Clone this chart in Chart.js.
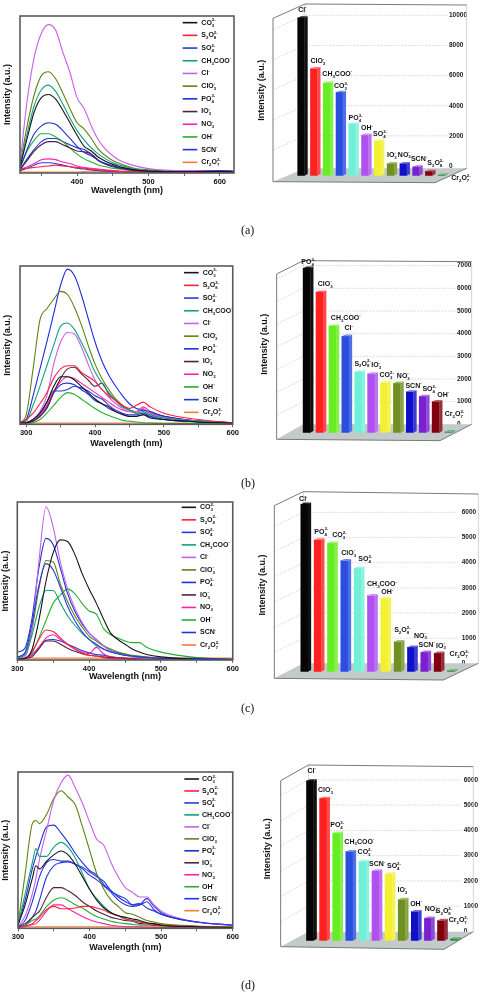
<!DOCTYPE html>
<html>
<head>
<meta charset="utf-8">
<title>Fluorescence spectra and intensity bars</title>
<script src="https://cdn.jsdelivr.net/npm/chart.js@4"></script>
<style>
html,body{margin:0;padding:0;background:#fff;width:480px;height:992px;overflow:hidden}
canvas{position:absolute;filter:blur(0.3px)}
.cap{position:absolute;font:12px "Liberation Serif",serif;color:#111}
</style>
</head>
<body>
<script>
// ---------- shared categories ----------
const ionLabels = ['CO_3^2-','S_2O_8^2-','SO_4^2-','CH_3COO^-','Cl^-','ClO_3^-','PO_4^3-','IO_3^-','NO_3^-','OH^-','SCN^-','Cr_2O_7^2-'];
const lineColors = ['#151515','#ff2040','#2838e0','#12a080','#c460ea','#5f8412','#1c30d4','#54203c','#ff22a4','#22b030','#2234d8','#ff7a30'];
const barColors = ['#050505','#ff2020','#66ee22','#2a4fe0','#70f0d8','#b050f0','#f2f030','#6f8f20','#1010c8','#7a20d0','#800010','#2a8a40'];
const spectrumTicks = [300,350,400,450,500,550,600];

// ---------- panel (a) spectra ----------
const wavelengthA = [320,330,340,350,360,370,380,390,400,410,420,430,440,450,460,480,500,550,600,620];
const co3A    = [3.5,22,39,48,50,47,40,32,24,17,14,10,7.5,5.5,4,2,1.2,.8,1,.8];
const s2o8A   = [2.5,3,3.5,4,4.5,5,4.5,4,3.5,3,2.5,2,1.5,1.2,1,.8,.6,.5,.5,.4];
const so4A    = [1.5,3,5,6.5,6.5,6,5,4,3,2.5,2,1.5,1.2,1,.8,.7,.6,.7,1.5,1];
const ch3cooA = [4,25,43,53,56,52,44,35,27,21,16,12,9,6.5,5,2.5,1.5,.8,1,.8];
const clA     = [6,46,74,89,94.5,91,77,64,48,41,30,21,15,11,8,4.7,2.8,1.5,1.5,1];
const clo3A   = [5,30,50,62,64.5,60,51,41,32,28,22,15,11,8,6,3,2,1,1.5,1];
const po4A    = [3,15,25,30,32,31,27,22,17,13,11,8,6,4.5,3.5,2,1.2,.8,1,.8];
const io3A    = [2,8,14,18,20,20,18,16,14,13.5,12,8,5.5,4,3,1.8,1,1,1.2,1];
const no3A    = [2,4,6,8.5,9,8.5,7,6,4.5,3.5,3,2.5,2,1.5,1.2,1,.8,.6,.6,.5];
const ohA     = [3,14,21,25,25,23,20,16,12,9,7,5,4,3,2.5,1.5,1,.6,.8,.6];
const scnA    = [2,9,15,20,22,22,20,18,16,15,12,8,6,4.5,3,1.8,1,1,1.5,1];
const cr2o7A  = [.6,.6,.6,.6,.6,.6,.6,.6,.6,1,1.2,1.2,1,1,.8,.8,.7,.6,.6,.6];

// ---------- panel (b) spectra ----------
const wavelengthB = [291,300,310,320,330,340,350,360,370,380,390,400,410,420,430,440,450,460,470,480,500,550,600];
const co3B    = [1,1,3,7,14,24,30,30,28,24,20,16,13,11,8,6,5,5,6,4,3,1.5,.8];
const s2o8B   = [1,3,7,13,20,29,35,37,37,33,30,27,22,18,15,12,10,12,14,11,7,3,1];
const so4B    = [1,1,3,7,14,21,21,22,24,23,21,18,16,12,9,7,6,6,7,5,3,1.5,.8];
const ch3cooB = [1,2,12,24,37,50,62,64,60,52,43,33,26,20,15,11,9,7,8,6,4,2,1];
const clB     = [.8,1,3,8,18,38,52,58,57,49,38,28,22,17,13,10,8,8,10,7,4.5,2,1];
const clo3B   = [1,6,35,66,73,79,84,82,74,63,50,38,29,22,16,12,9,7,7,6,4,2,1];
const po4B    = [1,3,18,35,52,70,88,98,94,82,67,52,40,31,24,18,13,10,9,8,5,2,1];
const io3B    = [.8,1,2,5,10,20,29,35,36,32,28,24,26,19,15,11,9,8,9,7,5,2,1];
const no3B    = [.8,1,2,6,12,21,27,30,29,26,23,20,17,14,11,9,8,8,11,8,5,2,1];
const ohB     = [.5,.5,1,3,7,12,17,20,19,16,13,10,7.5,5.5,4,2.5,2,1.5,1,.8,.5,.4,.3];
const scnB    = [1,1,2,5,11,20,25,26,25,22,19,15,13,10,8,6.5,5,5,6,5,3,1.5,.8];
const cr2o7B  = [.8,.8,.8,.8,.8,.8,.8,.8,.8,.8,.8,.8,.8,.8,.8,.8,.8,.8,.8,.8,.8,.8,.8];

// ---------- panel (c) spectra ----------
const wavelengthC = [300,310,320,330,340,350,360,370,380,390,400,410,420,430,440,450,460,470,480,500,550,600];
const co3C    = [.5,1,6,25,50,68,76,75,67,55,45,36,26,17,13,10,7,5,3.5,2,.5,.3];
const s2o8C   = [.5,1,5,13,19,18,14,10,7,4.5,3,2.5,1.5,1,.8,.6,.5,.5,.4,.3,.2,.2];
const so4C    = [2,4,22,47,61,57,46,34,25,18,13,10,7,5,4,3,2.5,2,1.5,1,1,.5];
const ch3cooC = [1.5,3,15,33,44,44,36,28,22,17,13,9,7,5,4,3,2.5,2,1.5,1,.4,.2];
const clC     = [1,2,18,62,97,84,62,45,33,24,17,13,9,6,4,3,2,1.5,1,.7,.3,.2];
const clo3C   = [2,4,18,45,63,62,48,37,28,21,15,12,9,7,5,4,3,2.5,2,1,.5,.3];
const po4C    = [5,7,25,58,77,73,58,42,31,23,17,13,9,6,4.5,3.5,2.5,2,1.5,1,.5,.3];
const io3C    = [.5,1,2,7,12,12,10,7.5,5.5,4,3,2.5,2,1.5,1.2,1,.8,.6,.5,.4,.3,.2];
const no3C    = [.5,1,3,8,14,16,13,10,7,5,4,8,4,2,1.5,1,.8,.6,.5,.4,.3,.2];
const ohC     = [.5,1,4,14,25,36,41,45,42,36,31,29,20,16,14,12,11,11,8,5,1.5,.5];
const scnC    = [.5,1,3,8,12.5,13,12,10,8,6,4.5,3.5,3,2,1.5,1,.8,.6,.5,.4,.3,.2];
const cr2o7C  = [1.2,1.2,1.2,1.2,1.2,1.2,1.2,1.2,1.2,1.2,1.2,1.2,1.2,1.2,1.2,1.2,1.2,1.2,1.2,1.2,1.2,1.2];

// ---------- panel (d) spectra ----------
const wavelengthD = [300,310,320,325,330,340,350,360,370,380,390,400,410,420,430,440,450,460,470,480,490,500,550,600];
const co3D    = [2,15,32,40,38,43,47,49.5,47,41,33,25,18,13,10,8,7,6,5,3.5,3,2,1,.5];
const s2o8D   = [.5,1.5,3,5,7,12,14,12.5,12.5,13,14,14,13,11.5,9.5,8,6,5,4,3,2.5,2,1,.5];
const so4D    = [1,5,17,25,33,42,44,43,43,41,39,36,33,30,24,21,19,15,16,13,11,9,4,2];
const ch3cooD = [2,22,42,51,46,46,52,55,52,45,35,25,19,14,10,8,6,5,4,3,2.5,2,1,.5];
const clD     = [1,8,22,32,44,63,82,93,98,90,80,68,57,53,42,33,26,23,20,20,15,11,4,2];
const clo3D   = [2,35,67,69,67,73,83,88,84,79,65,50,35,25,18,14,10,9,7,5,4,3,1.5,1];
const po4D    = [2,18,38,46,53,65,66,61,55,48,42,37,34,28,24,20,17,15,15,17,12,9,4,2];
const io3D    = [1,3,7,9,11,20,26,26,24,21,17,14,11,9,7,6,5,4.5,3,3,2,2,1,.5];
const no3D    = [.5,1,2.5,3,5,11,15,15,12.5,10,7.5,5.5,4,3,2,1.5,1,1,.8,.7,.6,.5,.4,.3];
const ohD     = [1,2,5,6,8,14,18,19.5,18,15,13,10,7.5,6,4.5,3.5,3,2.5,2,2,2,1.5,1,.5];
const scnD    = [.5,2,7,11,18,33,40,42,42.5,41,38,34,31,27,23,18,15,14,15,19,14,10,4,2];
const cr2o7D  = [1,1,1,1,1,1,1,1,1,1,1,1,1,1,1,1,1,1,1,1,1,1,1,1];

// ---------- bar panels ----------
const barNamesA = ['Cl^-','ClO_3^-','CH_3COO^-','CO_3^2-','PO_4^3-','OH^-','SO_4^2-','IO_3^-','NO_3^-','SCN^-','S_2O_8^2-','Cr_2O_7^2-'];
const barValuesA = [10470,7100,6150,5530,3440,2690,2300,800,800,580,280,40];
const barTicksA = [0,2000,4000,6000,8000,10000];

const barNamesB = ['PO_4^3-','ClO_3^-','CH_3COO^-','Cl^-','S_2O_8^2-','IO_3^-','CO_3^2-','NO_3^-','SCN^-','SO_4^2-','OH^-','Cr_2O_7^2-'];
const barValuesB = [7250,6200,4700,4250,2680,2590,2200,2180,1800,1600,1370,40];
const barTicksB = [0,1000,2000,3000,4000,5000,6000,7000];

const barNamesC = ['Cl^-','PO_4^3-','CO_3^2-','ClO_3^-','SO_4^2-','CH_3COO^-','OH^-','S_2O_8^2-','NO_3^-','SCN^-','IO_3^-','Cr_2O_7^2-'];
const barValuesC = [6650,5230,5100,4410,4110,3020,2910,1190,970,770,730,40];
const barTicksC = [0,1000,2000,3000,4000,5000,6000];

const barNamesD = ['Cl^-','ClO_3^-','PO_4^3-','CH_3COO^-','CO_3^2-','SCN^-','SO_4^2-','IO_3^-','OH^-','NO_3^-','S_2O_8^2-','Cr_2O_7^2-'];
const barValuesD = [6330,5640,4260,3530,3140,2760,2650,1630,1150,890,800,80];
const barTicksD = [0,1000,2000,3000,4000,5000,6000];

// ---------- layout (px, relative to each canvas) ----------
const Z = 1/3;
const W = 240, H = 240;
const FONT = '"Liberation Sans", Arial, sans-serif';

function richParts(s){
  const out = []; const re = /_(\d)|\^(\d?-)|([^_^]+)/g; let m;
  while((m = re.exec(s))){
    if(m[1]) { out.push({t:'sub',v:m[1]}); }
    else if(m[2]) { out.push({t:'sup',v:m[2]}); }
    else out.push({t:'base',v:m[3]});
  }
  return out;
}
function richLayout(ctx, s, size){
  const small = size*0.62; const parts = richParts(s); let x = 0; const items = [];
  for(let i=0;i<parts.length;i++){
    const p = parts[i];
    if(p.t==='base'){
      ctx.font = 'bold '+size+'px '+FONT;
      items.push({v:p.v,x:x,dy:0,f:ctx.font}); x += ctx.measureText(p.v).width;
    } else {
      ctx.font = 'bold '+small+'px '+FONT;
      let adv = ctx.measureText(p.v).width;
      items.push({v:p.v,x:x,dy:p.t==='sub'?size*0.38:-size*0.38,f:ctx.font});
      const n = parts[i+1];
      if(n && n.t!==p.t && n.t!=='base'){
        const w2 = ctx.measureText(n.v).width;
        items.push({v:n.v,x:x,dy:n.t==='sub'?size*0.38:-size*0.38,f:ctx.font});
        adv = Math.max(adv,w2); i++;
      }
      x += adv;
    }
  }
  return {items,width:x};
}
function drawRich(ctx, s, x, y, size, center){
  const l = richLayout(ctx,s,size);
  const x0 = center ? x - l.width/2 : x;
  ctx.save(); ctx.fillStyle = '#111'; ctx.textBaseline='middle'; ctx.textAlign='left';
  l.items.forEach(i=>{ctx.font=i.f; ctx.fillText(i.v,x0+i.x,y+i.dy);});
  ctx.restore();
}

const spectrumPlugin = {
  id:'spectrum',
  afterDatasetsDraw(chart){
    const o = chart.options.plugins.spectrum, a = chart.chartArea, c = chart.ctx;
    c.save(); c.strokeStyle='#5a5a5a'; c.lineWidth=1.6;
    c.strokeRect(a.left,a.top,a.right-a.left,a.bottom-a.top); c.restore();
    const n = chart.data.datasets.length, step = (o.lastY-o.firstY)/(n-1);
    chart.data.datasets.forEach((d,i)=>{
      const y = o.firstY+i*step;
      c.save(); c.strokeStyle=d.borderColor; c.lineWidth=1.6;
      c.beginPath(); c.moveTo(o.swatchX0,y); c.lineTo(o.swatchX1,y); c.stroke(); c.restore();
      drawRich(c,d.label,o.textX,y,7,false);
    });
  }
};

function shade(hex,amt){
  const n=parseInt(hex.slice(1),16); const f=v=>Math.round(v+(255-v)*amt);
  return 'rgb('+f(n>>16&255)+','+f(n>>8&255)+','+f(n&255)+')';
}
const box3dPlugin = {
  id:'box3d',
  beforeDatasetsDraw(chart){
    const g = chart.options.plugins.box3d.wall, c = chart.ctx, a = chart.chartArea, yS = chart.scales.yR;
    c.save();
    c.fillStyle='#c2caca';
    c.beginPath(); c.moveTo(g.frontX,g.frontBottom); c.lineTo(g.backX,g.floorBack); c.lineTo(g.rightX,g.floorBack); c.lineTo(g.floorRightX,g.floorRightY); c.closePath(); c.fill();
    c.strokeStyle='#8c8c8c'; c.lineWidth=0.8;
    c.setLineDash([1.5,1.5]);
    c.strokeStyle='#c4cccc';
    yS.ticks.forEach(t=>{
      if(t.value===0) return;
      const y=yS.getPixelForValue(t.value)-g.zeroShift;
      c.beginPath(); c.moveTo(g.frontX,y+(g.frontTop-g.backTop)); c.lineTo(g.backX,y); c.lineTo(a.right,y); c.stroke();
    });
    c.setLineDash([]);
    c.strokeStyle='#c8c8c8';
    c.beginPath(); c.moveTo(g.backX,g.floorBack); c.lineTo(g.backX,g.backTop); c.stroke();
    c.beginPath(); c.moveTo(g.rightX,g.rightTop); c.lineTo(g.rightX,g.floorBack); c.stroke();
    c.strokeStyle='#7a7a7a'; c.lineWidth=1;
    c.beginPath(); c.moveTo(g.frontX,g.frontBottom); c.lineTo(g.frontX,g.frontTop); c.lineTo(g.backX,g.backTop); c.lineTo(g.rightX,g.rightTop); c.stroke();
    c.beginPath(); c.moveTo(g.frontX,g.frontBottom); c.lineTo(g.floorRightX,g.floorRightY); c.lineTo(g.rightX,g.floorBack); c.stroke();
    c.restore();
  },
  afterDatasetsDraw(chart){
    const o = chart.options.plugins.box3d, c = chart.ctx, meta = chart.getDatasetMeta(0);
    const names = chart.data.labels;
    meta.data.forEach((b,i)=>{
      const hw=b.width/2, sx=o.sideX, sy=o.sideY, col=barColors[i], top=b.y, base=b.base;
      c.save();
      c.fillStyle = i===0?'#111':shade(col,.18);
      c.beginPath(); c.moveTo(b.x+hw,top); c.lineTo(b.x+hw+sx,top-sy); c.lineTo(b.x+hw+sx,base-sy); c.lineTo(b.x+hw,base); c.closePath(); c.fill();
      c.fillStyle = i===0?'#222':shade(col,.38);
      c.beginPath(); c.moveTo(b.x-hw,top); c.lineTo(b.x+hw,top); c.lineTo(b.x+hw+sx,top-sy); c.lineTo(b.x-hw+sx,top-sy); c.closePath(); c.fill();
      c.restore();
      drawRich(c,names[i],b.x+o.shiftX[i]*Z,top-22*Z+o.shiftY[i]*Z,7,true);
    });
  }
};

function spectrumChart(id,top,cfg){
  const cv = document.createElement('canvas');
  cv.width=W; cv.height=H; cv.style.left='0px'; cv.style.top=top+'px';
  document.body.appendChild(cv);
  const leftPad = cfg.titleX-5.4, bottomEdge = cfg.titleY+5.4;
  new Chart(cv,{
    type:'line',
    plugins:[spectrumPlugin],
    data:{datasets:ionLabels.map((l,i)=>({
      label:l, data:cfg.xs.map((x,j)=>({x:x,y:cfg.series[i][j]})),
      borderColor:lineColors[i], borderWidth:1.1, pointRadius:0, cubicInterpolationMode:'monotone', fill:false
    }))},
    options:{
      responsive:false, animation:false, devicePixelRatio:1,
      layout:{padding:{left:leftPad,top:cfg.box[1],right:W-cfg.box[2],bottom:H-bottomEdge}},
      plugins:{legend:{display:false},tooltip:{enabled:false},
        spectrum:{swatchX0:cfg.legend[0]*Z,swatchX1:cfg.legend[1]*Z,textX:cfg.legend[2]*Z,firstY:cfg.legend[3]*Z,lastY:cfg.legend[4]*Z}},
      scales:{
        x:{type:'linear',min:cfg.xMin,max:cfg.xMax,bounds:'data',
          afterBuildTicks(s){s.ticks=spectrumTicks.filter(v=>v>=cfg.xMin&&v<=cfg.xMax).map(v=>({value:v}));},
          afterFit(s){s.height=bottomEdge-cfg.box[3];},
          grid:{drawOnChartArea:false,drawTicks:true,tickLength:3,color:'#444',tickWidth:0.8},
          border:{display:false},
          ticks:{autoSkip:false,maxRotation:0,padding:1,color:'#111',font:{family:FONT,weight:'bold',size:7.5},callback:v=>v%100===0?String(v):''},
          title:{display:true,text:'Wavelength (nm)',color:'#111',padding:0,font:{family:FONT,weight:'bold',size:9}}},
        y:{min:0,max:100,bounds:'data',
          afterFit(s){s.width=cfg.box[0]-leftPad;},
          grid:{display:false},border:{display:false},ticks:{display:false},
          title:{display:true,text:'Intensity (a.u.)',color:'#111',padding:0,font:{family:FONT,weight:'bold',size:9}}}
      }
    }
  });
}

function barChart(id,top,cfg){
  const cv = document.createElement('canvas');
  cv.width=W; cv.height=H; cv.style.left='240px'; cv.style.top=top+'px';
  document.body.appendChild(cv);
  const pp = cfg.perThousand*Z/1000, baseline = cfg.baseline*Z, areaTop = cfg.areaTop;
  const yMax = (baseline-areaTop)/pp, areaLeft = cfg.areaLeft*Z, areaRight = cfg.areaRight*Z;
  const leftPad = Math.max(0,cfg.titleX-5.4);
  const w = cfg.wall;
  new Chart(cv,{
    type:'bar',
    plugins:[box3dPlugin],
    data:{labels:cfg.names,datasets:[{data:cfg.values,backgroundColor:barColors,barThickness:cfg.barW,borderWidth:0}]},
    options:{
      responsive:false, animation:false, devicePixelRatio:1,
      layout:{padding:{left:leftPad,top:areaTop,right:0,bottom:H-baseline}},
      plugins:{legend:{display:false},tooltip:{enabled:false},
        box3d:{sideX:3.3,sideY:1.7,shiftX:cfg.shiftX,shiftY:cfg.shiftY,
          wall:{frontX:w[0]*Z,frontTop:w[1]*Z,frontBottom:w[2]*Z,backX:w[3]*Z,backTop:w[4]*Z,rightX:w[5]*Z,rightTop:w[6]*Z,floorBack:w[7]*Z,floorRightX:w[8]*Z,floorRightY:w[9]*Z,zeroShift:cfg.zeroShift*Z}}},
      scales:{
        x:{display:false},
        y:{min:0,max:yMax,bounds:'data',position:'left',
          afterFit(s){s.width=areaLeft-leftPad;},
          grid:{display:false},border:{display:false},ticks:{display:false},
          title:{display:true,text:'Intensity (a.u.)',color:'#111',padding:0,font:{family:FONT,weight:'bold',size:9}}},
        yR:{min:0,max:yMax,bounds:'data',position:'right',
          afterBuildTicks(s){s.ticks=cfg.ticks.map(v=>({value:v}));},
          afterFit(s){s.width=W-areaRight;},
          grid:{display:false,drawTicks:false},border:{display:false},
          ticks:{autoSkip:false,padding:cfg.labelPad,labelOffset:-cfg.zeroShift*Z,color:'#222',font:{family:FONT,weight:'bold',size:6.5},callback:v=>String(v)}}
      }
    }
  });
}

spectrumChart('a',0,{xs:wavelengthA,xMin:320,xMax:620,box:[20,16,234,173],titleX:7.7,titleY:190.7,legend:[548,592,604,68,487],
  series:[co3A,s2o8A,so4A,ch3cooA,clA,clo3A,po4A,io3A,no3A,ohA,scnA,cr2o7A]});
spectrumChart('b',250,{xs:wavelengthB,xMin:291,xMax:600,box:[20,16,238,174.3],titleX:7.7,titleY:194,legend:[552,596,608,68,487],
  series:[co3B,s2o8B,so4B,ch3cooB,clB,clo3B,po4B,io3B,no3B,ohB,scnB,cr2o7B]});
spectrumChart('c',490,{xs:wavelengthC,xMin:300,xMax:600,box:[17.3,12,233,170],titleX:5.7,titleY:187,legend:[545,588,600,52,465],
  series:[co3C,s2o8C,so4C,ch3cooC,clC,clo3C,po4C,io3C,no3C,ohC,scnC,cr2o7C]});
spectrumChart('d',750,{xs:wavelengthD,xMin:300,xMax:600,box:[18,22,233,178.3],titleX:5.7,titleY:197.3,legend:[553,597,606,87,482],
  series:[co3D,s2o8D,so4D,ch3cooD,clD,clo3D,po4D,io3D,no3D,ohD,scnD,cr2o7D]});

barChart('a',0,{names:barNamesA,values:barValuesA,ticks:barTicksA,perThousand:46.5,baseline:527,areaTop:0,areaLeft:164,areaRight:624,zeroShift:29,titleX:21.7,barW:6.7,labelPad:1,
  wall:[99,55,545,195,12,680,15,505,585,548],
  shiftX:[4,12,32,5,10,6,7,4,3,9,20,58],shiftY:[-3,0,-6,4,5,2,2,-3,-5,-1,-2,32]});
barChart('b',250,{names:barNamesB,values:barValuesB,ticks:barTicksB,perThousand:69.4,baseline:548,areaTop:2.3,areaLeft:180.6,areaRight:645,zeroShift:25,titleX:25,barW:7,labelPad:2,
  wall:[110,72,568,190,32,695,35,523,600,572],
  shiftX:[5,17,40,10,13,15,8,19,11,20,23,18],shiftY:[4,-3,-3,-3,-3,-4,-1,0,4,0,2,-31]});
barChart('c',490,{names:barNamesC,values:barValuesC,ticks:barTicksC,perThousand:75.5,baseline:545,areaTop:8.3,areaLeft:173,areaRight:653,zeroShift:25,titleX:23,barW:7,labelPad:4,
  wall:[103,47,565,190,5,715,12,520,610,570],
  shiftX:[-3,11,25,13,23,33,9,14,28,7,10,25],shiftY:[6,-3,-3,-2,-5,-12,4,-13,-13,0,-1,-28]});
barChart('d',750,{names:barNamesD,values:barValuesD,ticks:barTicksD,perThousand:78,baseline:572,areaTop:1.3,areaLeft:190.4,areaRight:662,zeroShift:28,titleX:28,barW:7,labelPad:3,
  wall:[122,92,590,205,45,700,50,545,612,598],
  shiftX:[5,7,3,30,7,5,16,2,4,10,9,13],shiftY:[-8,-2,-1,-8,-5,2,0,-6,-2,-4,-5,-33]});

[['(a)',230],['(b)',483],['(c)',708],['(d)',985]].forEach(([t,y])=>{
  const d=document.createElement('div'); d.className='cap'; d.textContent=t;
  d.style.left='241px'; d.style.top=(y-7)+'px'; document.body.appendChild(d);
});
</script>
</body>
</html>
